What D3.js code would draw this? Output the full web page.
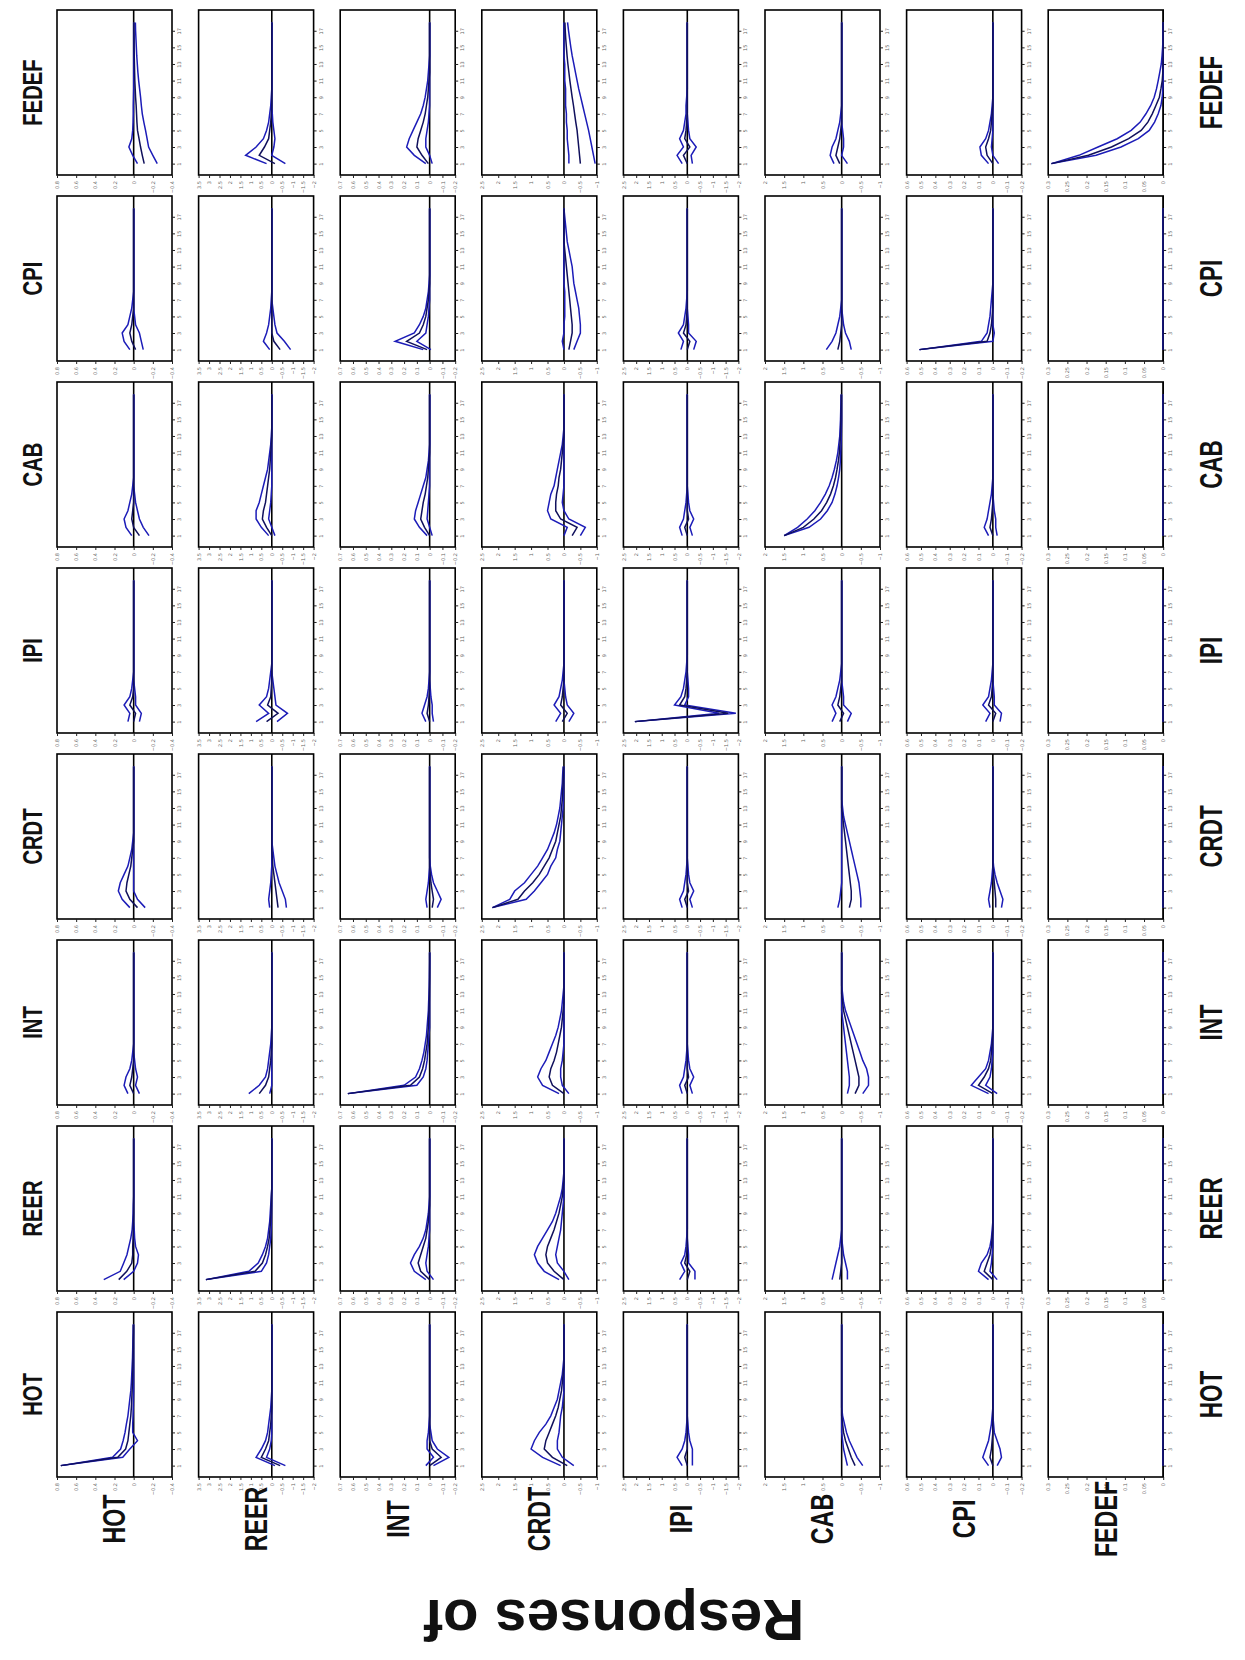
<!DOCTYPE html>
<html>
<head>
<meta charset="utf-8">
<script src="https://cdn.jsdelivr.net/npm/d3@7"></script>
<style>
  body { margin: 0; background: #fff; }
  svg { display: block; }
  .name { font-family: 'Liberation Sans', Arial, sans-serif; font-weight: bold; fill: #111; }
  .tick text { font-family: 'DejaVu Sans', sans-serif; font-size: 5px; fill: #666; }
</style>
</head>
<body>
<svg width="1245" height="1660"></svg>
<script>
// rows = shock, top to bottom; columns = responding variable, left to right
const shocks = ['FEDEF', 'CPI', 'CAB', 'IPI', 'CRDT', 'INT', 'REER', 'HOT'];
const responses = ['HOT', 'REER', 'INT', 'CRDT', 'IPI', 'CAB', 'CPI', 'FEDEF'];
const periods = [1, 2, 3, 4, 5, 6, 7, 8, 9, 10, 11, 12, 13, 14, 15, 16, 17, 18];
const timeTicks = [1, 3, 5, 7, 9, 11, 13, 15, 17];

// value axis of each response column, in tick units: [left edge, right edge]
const axisSpan = [[4, -2], [7, -4], [7, -2], [5, -2], [5, -4], [4, -2], [6, -2], [6, 0]];
const tickStep = [0.2, 0.5, 0.1, 0.5, 0.5, 0.5, 0.1, 0.05];

const flat = [0, 0, 0, 0, 0, 0, 0, 0, 0, 0, 0, 0, 0, 0, 0, 0, 0, 0];

// responses in tick units (positive = left of the zero line)
const hiBand = [
  [ // FEDEF shock
    [-0.2, 0.05, 0.25, 0.1, 0.05, 0.03, 0.02, 0.02, 0.01, 0, 0, 0, 0, 0, 0, 0, 0, 0],
    [0.5, 2.5, 1.5, 0.8, 0.5, 0.3, 0.2, 0.1, 0.05, 0, 0, 0, 0, 0, 0, 0, 0, 0],
    [0.3, 1.2, 1.8, 1.6, 1.3, 1.0, 0.7, 0.5, 0.35, 0.25, 0.15, 0.1, 0.05, 0, 0, 0, 0, 0],
    [-0.3, -0.3, -0.25, -0.2, -0.2, -0.15, -0.15, -0.1, -0.1, -0.1, -0.05, -0.05, -0.05, 0, 0, 0, 0, 0],
    [0.4, 0.8, 0.3, 0.6, 0.3, 0.2, 0.1, 0.1, 0.05, 0, 0, 0, 0, 0, 0, 0, 0, 0],
    [0.4, 0.6, 0.5, 0.3, 0.2, 0.1, 0.05, 0, 0, 0, 0, 0, 0, 0, 0, 0, 0, 0],
    [0.3, 0.8, 0.9, 0.5, 0.3, 0.2, 0.1, 0.05, 0, 0, 0, 0, 0, 0, 0, 0, 0, 0],
    [5.83, 4.4, 3.4, 2.4, 1.67, 1.2, 0.9, 0.65, 0.47, 0.35, 0.26, 0.18, 0.1, 0.06, 0.03, 0.01, 0, 0]
  ],
  [ // CPI shock
    [0.2, 0.5, 0.6, 0.3, 0.2, 0.1, 0.05, 0, 0, 0, 0, 0, 0, 0, 0, 0, 0, 0],
    [0.2, 0.8, 0.5, 0.3, 0.2, 0.1, 0.05, 0, 0, 0, 0, 0, 0, 0, 0, 0, 0, 0],
    [0.5, 2.7, 1.2, 0.8, 0.5, 0.3, 0.2, 0.1, 0.05, 0, 0, 0, 0, 0, 0, 0, 0, 0],
    [0, 0.1, 0, 0, -0.05, -0.05, -0.05, -0.05, 0, 0, 0, 0, 0, 0, 0, 0, 0, 0],
    [0.5, 0.3, 0.7, 0.3, 0.2, 0.1, 0.05, 0, 0, 0, 0, 0, 0, 0, 0, 0, 0, 0],
    [0.8, 0.5, 0.3, 0.2, 0.1, 0.05, 0, 0, 0, 0, 0, 0, 0, 0, 0, 0, 0, 0],
    [5.1, 0.8, 0.4, 0.3, 0.2, 0.15, 0.1, 0.05, 0, 0, 0, 0, 0, 0, 0, 0, 0, 0],
    flat
  ],
  [ // CAB shock
    [0.1, 0.4, 0.5, 0.3, 0.2, 0.1, 0.05, 0, 0, 0, 0, 0, 0, 0, 0, 0, 0, 0],
    [0.3, 1.0, 1.5, 1.5, 1.2, 1.0, 0.8, 0.6, 0.4, 0.3, 0.2, 0.1, 0.05, 0, 0, 0, 0, 0],
    [0.2, 0.8, 1.2, 1.1, 0.9, 0.7, 0.5, 0.3, 0.2, 0.1, 0.05, 0, 0, 0, 0, 0, 0, 0],
    [0, -0.2, 0.8, 1.0, 0.9, 0.8, 0.6, 0.5, 0.4, 0.3, 0.2, 0.1, 0.05, 0, 0, 0, 0, 0],
    [0.4, 0.6, 0.3, 0.2, 0.1, 0.05, 0, 0, 0, 0, 0, 0, 0, 0, 0, 0, 0, 0],
    [3.0, 2.3, 1.8, 1.4, 1.1, 0.85, 0.65, 0.5, 0.38, 0.28, 0.2, 0.15, 0.1, 0.08, 0.06, 0.05, 0.04, 0.03],
    [0.3, 0.6, 0.4, 0.3, 0.2, 0.1, 0.05, 0, 0, 0, 0, 0, 0, 0, 0, 0, 0, 0],
    flat
  ],
  [ // IPI shock
    [0.3, 0.2, 0.5, 0.2, 0.1, 0.05, 0, 0, 0, 0, 0, 0, 0, 0, 0, 0, 0, 0],
    [1.5, 0.3, 1.2, 0.5, 0.3, 0.2, 0.1, 0, 0, 0, 0, 0, 0, 0, 0, 0, 0, 0],
    [0.3, 0.6, 0.4, 0.2, 0.1, 0.05, 0, 0, 0, 0, 0, 0, 0, 0, 0, 0, 0, 0],
    [0.5, 0.2, 0.6, 0.3, 0.2, 0.1, 0.05, 0, 0, 0, 0, 0, 0, 0, 0, 0, 0, 0],
    [4.1, -2.5, 1.0, 0.5, 0.3, 0.2, 0.1, 0.05, 0, 0, 0, 0, 0, 0, 0, 0, 0, 0],
    [0.5, 0.3, 0.5, 0.3, 0.2, 0.1, 0.05, 0, 0, 0, 0, 0, 0, 0, 0, 0, 0, 0],
    [0.5, 0.2, 0.7, 0.3, 0.2, 0.1, 0.05, 0, 0, 0, 0, 0, 0, 0, 0, 0, 0, 0],
    flat
  ],
  [ // CRDT shock
    [0.2, 0.6, 0.8, 0.7, 0.5, 0.3, 0.2, 0.1, 0.05, 0, 0, 0, 0, 0, 0, 0, 0, 0],
    [0.2, 0.3, 0.2, 0.1, 0.05, 0, 0, 0, 0, 0, 0, 0, 0, 0, 0, 0, 0, 0],
    [0.2, 0.3, 0.2, 0.1, 0.05, 0, 0, 0, 0, 0, 0, 0, 0, 0, 0, 0, 0, 0],
    [4.35, 3.3, 3.0, 2.4, 2.0, 1.6, 1.3, 1.0, 0.8, 0.6, 0.45, 0.35, 0.25, 0.2, 0.15, 0.1, 0.08, 0.05],
    [0.4, 0.6, 0.3, 0.2, 0.1, 0.05, 0, 0, 0, 0, 0, 0, 0, 0, 0, 0, 0, 0],
    [0.2, 0.1, 0.05, 0, 0, 0, 0, 0, 0, 0, 0, 0, 0, 0, 0, 0, 0, 0],
    [0.2, 0.3, 0.2, 0.1, 0.05, 0, 0, 0, 0, 0, 0, 0, 0, 0, 0, 0, 0, 0],
    flat
  ],
  [ // INT shock
    [0.3, 0.5, 0.4, 0.2, 0.1, 0.05, 0, 0, 0, 0, 0, 0, 0, 0, 0, 0, 0, 0],
    [2.2, 1.2, 0.6, 0.4, 0.3, 0.2, 0.1, 0.05, 0, 0, 0, 0, 0, 0, 0, 0, 0, 0],
    [6.4, 2.0, 1.1, 0.8, 0.6, 0.45, 0.35, 0.25, 0.2, 0.15, 0.1, 0.08, 0.05, 0.03, 0.02, 0.01, 0, 0],
    [0.3, 1.3, 1.6, 1.4, 1.1, 0.9, 0.7, 0.5, 0.35, 0.25, 0.15, 0.1, 0.05, 0, 0, 0, 0, 0],
    [0.4, 0.6, 0.3, 0.2, 0.1, 0.05, 0, 0, 0, 0, 0, 0, 0, 0, 0, 0, 0, 0],
    [-0.3, -0.4, -0.4, -0.35, -0.3, -0.25, -0.2, -0.15, -0.1, -0.05, 0, 0, 0, 0, 0, 0, 0, 0],
    [0.3, 1.5, 1.0, 0.5, 0.3, 0.2, 0.1, 0.05, 0, 0, 0, 0, 0, 0, 0, 0, 0, 0],
    flat
  ],
  [ // REER shock
    [1.56, 0.7, 0.52, 0.35, 0.25, 0.15, 0.08, 0.05, 0.03, 0.02, 0, 0, 0, 0, 0, 0, 0, 0],
    [6.3, 2.2, 1.3, 0.9, 0.6, 0.4, 0.3, 0.2, 0.15, 0.1, 0.05, 0, 0, 0, 0, 0, 0, 0],
    [0.3, 1.2, 1.5, 1.2, 0.8, 0.5, 0.3, 0.2, 0.1, 0.05, 0, 0, 0, 0, 0, 0, 0, 0],
    [0.3, 1.2, 1.6, 1.8, 1.6, 1.3, 1.0, 0.7, 0.5, 0.35, 0.2, 0.1, 0.05, 0, 0, 0, 0, 0],
    [0.6, 0.2, 0.5, 0.2, 0.1, 0.05, 0, 0, 0, 0, 0, 0, 0, 0, 0, 0, 0, 0],
    [0.5, 0.4, 0.3, 0.2, 0.1, 0.05, 0, 0, 0, 0, 0, 0, 0, 0, 0, 0, 0, 0],
    [0.3, 1.0, 0.8, 0.4, 0.2, 0.1, 0.05, 0, 0, 0, 0, 0, 0, 0, 0, 0, 0, 0],
    flat
  ],
  [ // HOT shock
    [3.8, 1.1, 0.68, 0.55, 0.45, 0.38, 0.3, 0.25, 0.2, 0.15, 0.12, 0.1, 0.08, 0.06, 0.05, 0.04, 0.03, 0.02],
    [-0.3, 1.5, 1.0, 0.6, 0.4, 0.3, 0.2, 0.1, 0.05, 0, 0, 0, 0, 0, 0, 0, 0, 0],
    [0.3, -0.3, 0.2, 0.2, 0.1, 0.05, 0, 0, 0, 0, 0, 0, 0, 0, 0, 0, 0, 0],
    [0.2, 1.3, 2.0, 1.8, 1.5, 1.1, 0.8, 0.6, 0.4, 0.3, 0.2, 0.1, 0.05, 0, 0, 0, 0, 0],
    [0.4, 0.8, 0.4, 0.2, 0.1, 0.05, 0, 0, 0, 0, 0, 0, 0, 0, 0, 0, 0, 0],
    [-0.3, -0.2, -0.1, -0.05, 0, 0, 0, 0, 0, 0, 0, 0, 0, 0, 0, 0, 0, 0],
    [0.3, 0.7, 0.5, 0.3, 0.2, 0.1, 0.05, 0, 0, 0, 0, 0, 0, 0, 0, 0, 0, 0],
    flat
  ]
];

const midLine = [
  [
    [-0.55, -0.45, -0.36, -0.28, -0.2, -0.17, -0.15, -0.13, -0.1, -0.08, -0.06, -0.05, -0.04, -0.03, -0.02, -0.02, -0.01, -0.01],
    [-0.3, 1.2, 0.7, 0.3, 0.2, 0.1, 0.05, 0, 0, 0, 0, 0, 0, 0, 0, 0, 0, 0],
    [0.1, 0.6, 1.0, 0.9, 0.7, 0.5, 0.35, 0.25, 0.15, 0.1, 0.05, 0, 0, 0, 0, 0, 0, 0],
    [-1.0, -0.95, -0.9, -0.85, -0.8, -0.72, -0.65, -0.58, -0.5, -0.43, -0.36, -0.3, -0.24, -0.19, -0.15, -0.11, -0.08, -0.06],
    [0, 0.3, -0.2, 0.2, 0.1, 0.05, 0, 0, 0, 0, 0, 0, 0, 0, 0, 0, 0, 0],
    [0.1, 0.3, 0.2, 0.1, 0.05, 0, 0, 0, 0, 0, 0, 0, 0, 0, 0, 0, 0, 0],
    [0, 0.4, 0.5, 0.3, 0.15, 0.1, 0.05, 0, 0, 0, 0, 0, 0, 0, 0, 0, 0, 0],
    [5.83, 3.9, 2.7, 1.8, 1.15, 0.8, 0.57, 0.38, 0.2, 0.12, 0.05, 0.02, 0, 0, 0, 0, 0, 0]
  ],
  [
    [-0.1, 0.1, 0.2, 0.1, 0.05, 0, 0, 0, 0, 0, 0, 0, 0, 0, 0, 0, 0, 0],
    [-0.8, -0.2, 0, 0, 0, 0, 0, 0, 0, 0, 0, 0, 0, 0, 0, 0, 0, 0],
    [0.2, 1.8, 0.8, 0.5, 0.3, 0.2, 0.1, 0.05, 0, 0, 0, 0, 0, 0, 0, 0, 0, 0],
    [-0.3, -0.4, -0.5, -0.5, -0.45, -0.4, -0.35, -0.3, -0.25, -0.2, -0.15, -0.1, -0.05, 0, 0, 0, 0, 0],
    [0, -0.2, 0.3, 0.1, 0.05, 0, 0, 0, 0, 0, 0, 0, 0, 0, 0, 0, 0, 0],
    [0.2, 0.1, 0.05, 0, 0, 0, 0, 0, 0, 0, 0, 0, 0, 0, 0, 0, 0, 0],
    [5.1, 0.4, 0.2, 0.1, 0.05, 0, 0, 0, 0, 0, 0, 0, 0, 0, 0, 0, 0, 0],
    flat
  ],
  [
    [-0.3, 0, 0.1, 0.05, 0, 0, 0, 0, 0, 0, 0, 0, 0, 0, 0, 0, 0, 0],
    [0, 0.5, 0.9, 0.8, 0.6, 0.5, 0.4, 0.3, 0.2, 0.15, 0.1, 0.05, 0, 0, 0, 0, 0, 0],
    [0, 0.4, 0.7, 0.6, 0.5, 0.35, 0.25, 0.15, 0.1, 0.05, 0, 0, 0, 0, 0, 0, 0, 0],
    [-0.5, -0.8, 0.2, 0.5, 0.5, 0.45, 0.35, 0.3, 0.2, 0.15, 0.1, 0.05, 0, 0, 0, 0, 0, 0],
    [0, 0.2, -0.1, 0, 0, 0, 0, 0, 0, 0, 0, 0, 0, 0, 0, 0, 0, 0],
    [3.0, 2.0, 1.45, 1.05, 0.78, 0.58, 0.43, 0.32, 0.24, 0.17, 0.12, 0.09, 0.06, 0.05, 0.04, 0.03, 0.02, 0.02],
    [0, 0.2, 0.1, 0.05, 0, 0, 0, 0, 0, 0, 0, 0, 0, 0, 0, 0, 0, 0],
    flat
  ],
  [
    [0, -0.1, 0.2, 0.05, 0, 0, 0, 0, 0, 0, 0, 0, 0, 0, 0, 0, 0, 0],
    [0.5, -0.6, 0.4, 0.1, 0.05, 0, 0, 0, 0, 0, 0, 0, 0, 0, 0, 0, 0, 0],
    [0, 0.2, 0.1, 0.05, 0, 0, 0, 0, 0, 0, 0, 0, 0, 0, 0, 0, 0, 0],
    [0.1, -0.2, 0.2, 0.1, 0.05, 0, 0, 0, 0, 0, 0, 0, 0, 0, 0, 0, 0, 0],
    [4.1, -3.2, 0.6, 0.2, 0.1, 0.05, 0, 0, 0, 0, 0, 0, 0, 0, 0, 0, 0, 0],
    [0.1, -0.1, 0.2, 0.1, 0.05, 0, 0, 0, 0, 0, 0, 0, 0, 0, 0, 0, 0, 0],
    [0, -0.2, 0.3, 0.1, 0.05, 0, 0, 0, 0, 0, 0, 0, 0, 0, 0, 0, 0, 0],
    flat
  ],
  [
    [-0.2, 0.2, 0.4, 0.35, 0.25, 0.15, 0.1, 0.05, 0, 0, 0, 0, 0, 0, 0, 0, 0, 0],
    [-0.6, -0.5, -0.4, -0.3, -0.2, -0.1, -0.05, 0, 0, 0, 0, 0, 0, 0, 0, 0, 0, 0],
    [-0.2, -0.3, -0.2, -0.1, -0.05, 0, 0, 0, 0, 0, 0, 0, 0, 0, 0, 0, 0, 0],
    [4.35, 2.8, 2.4, 1.9, 1.5, 1.2, 0.9, 0.7, 0.5, 0.4, 0.3, 0.2, 0.15, 0.1, 0.08, 0.05, 0.03, 0.02],
    [0, 0.2, -0.1, 0, 0, 0, 0, 0, 0, 0, 0, 0, 0, 0, 0, 0, 0, 0],
    [-0.4, -0.5, -0.5, -0.45, -0.4, -0.35, -0.3, -0.25, -0.2, -0.15, -0.1, -0.05, 0, 0, 0, 0, 0, 0],
    [-0.2, -0.2, -0.15, -0.1, -0.05, 0, 0, 0, 0, 0, 0, 0, 0, 0, 0, 0, 0, 0],
    flat
  ],
  [
    [0, 0.2, 0.1, 0.05, 0, 0, 0, 0, 0, 0, 0, 0, 0, 0, 0, 0, 0, 0],
    [1.2, 0.6, 0.3, 0.2, 0.1, 0.05, 0, 0, 0, 0, 0, 0, 0, 0, 0, 0, 0, 0],
    [6.4, 1.5, 0.8, 0.55, 0.4, 0.3, 0.2, 0.15, 0.1, 0.08, 0.05, 0.03, 0.02, 0.01, 0, 0, 0, 0],
    [0, 0.7, 0.9, 0.8, 0.6, 0.45, 0.35, 0.25, 0.15, 0.1, 0.05, 0, 0, 0, 0, 0, 0, 0],
    [0, 0.2, -0.1, 0, 0, 0, 0, 0, 0, 0, 0, 0, 0, 0, 0, 0, 0, 0],
    [-0.7, -0.9, -0.9, -0.8, -0.7, -0.6, -0.5, -0.4, -0.3, -0.2, -0.1, -0.05, 0, 0, 0, 0, 0, 0],
    [0, 1.0, 0.6, 0.3, 0.15, 0.1, 0.05, 0, 0, 0, 0, 0, 0, 0, 0, 0, 0, 0],
    flat
  ],
  [
    [0.78, 0.36, 0.1, 0.05, 0.05, 0.03, 0.02, 0.01, 0, 0, 0, 0, 0, 0, 0, 0, 0, 0],
    [6.3, 1.6, 0.9, 0.6, 0.4, 0.25, 0.18, 0.12, 0.08, 0.05, 0.03, 0, 0, 0, 0, 0, 0, 0],
    [0, 0.7, 0.9, 0.7, 0.5, 0.3, 0.2, 0.1, 0.05, 0, 0, 0, 0, 0, 0, 0, 0, 0],
    [0, 0.6, 1.0, 1.1, 1.0, 0.8, 0.6, 0.45, 0.3, 0.2, 0.1, 0.05, 0, 0, 0, 0, 0, 0],
    [0, -0.2, 0.2, 0.05, 0, 0, 0, 0, 0, 0, 0, 0, 0, 0, 0, 0, 0, 0],
    [0.1, 0.05, 0, 0, 0, 0, 0, 0, 0, 0, 0, 0, 0, 0, 0, 0, 0, 0],
    [0, 0.6, 0.4, 0.2, 0.1, 0.05, 0, 0, 0, 0, 0, 0, 0, 0, 0, 0, 0, 0],
    flat
  ],
  [
    [3.8, 0.83, 0.42, 0.3, 0.25, 0.2, 0.15, 0.12, 0.1, 0.08, 0.06, 0.05, 0.04, 0.03, 0.02, 0.02, 0.01, 0.01],
    [-0.8, 1.0, 0.6, 0.3, 0.2, 0.1, 0.05, 0, 0, 0, 0, 0, 0, 0, 0, 0, 0, 0],
    [0, -0.9, -0.2, 0, 0, 0, 0, 0, 0, 0, 0, 0, 0, 0, 0, 0, 0, 0],
    [-0.2, 0.7, 1.2, 1.1, 0.9, 0.7, 0.5, 0.35, 0.25, 0.15, 0.1, 0.05, 0, 0, 0, 0, 0, 0],
    [0, 0.2, 0, 0, 0, 0, 0, 0, 0, 0, 0, 0, 0, 0, 0, 0, 0, 0],
    [-0.7, -0.5, -0.35, -0.2, -0.1, -0.05, 0, 0, 0, 0, 0, 0, 0, 0, 0, 0, 0, 0],
    [0, 0.2, 0.1, 0.05, 0, 0, 0, 0, 0, 0, 0, 0, 0, 0, 0, 0, 0, 0],
    flat
  ]
];

const loBand = [
  [
    [-1.23, -1.0, -0.78, -0.7, -0.62, -0.53, -0.45, -0.4, -0.36, -0.31, -0.26, -0.22, -0.19, -0.16, -0.14, -0.12, -0.1, -0.09],
    [-1.3, 0, -0.2, -0.3, -0.2, -0.1, -0.05, 0, 0, 0, 0, 0, 0, 0, 0, 0, 0, 0],
    [-0.2, 0, 0.3, 0.3, 0.2, 0.1, 0.05, 0, 0, 0, 0, 0, 0, 0, 0, 0, 0, 0],
    [-1.9, -1.8, -1.7, -1.6, -1.5, -1.38, -1.26, -1.14, -1.02, -0.9, -0.8, -0.7, -0.6, -0.5, -0.42, -0.35, -0.28, -0.22],
    [-0.4, -0.3, -0.7, -0.2, -0.1, -0.05, 0, 0, 0, 0, 0, 0, 0, 0, 0, 0, 0, 0],
    [-0.3, 0, -0.1, -0.1, -0.05, 0, 0, 0, 0, 0, 0, 0, 0, 0, 0, 0, 0, 0],
    [-0.4, 0, 0.1, 0.05, 0, 0, 0, 0, 0, 0, 0, 0, 0, 0, 0, 0, 0, 0],
    [5.83, 3.5, 2.2, 1.3, 0.73, 0.45, 0.26, 0.12, 0.05, 0.02, 0, 0, 0, 0, 0, 0, 0, 0]
  ],
  [
    [-0.5, -0.4, -0.3, -0.1, -0.05, 0, 0, 0, 0, 0, 0, 0, 0, 0, 0, 0, 0, 0],
    [-1.8, -1.2, -0.5, -0.3, -0.2, -0.1, 0, 0, 0, 0, 0, 0, 0, 0, 0, 0, 0, 0],
    [-0.1, 1.0, 0.3, 0.2, 0.1, 0.05, 0, 0, 0, 0, 0, 0, 0, 0, 0, 0, 0, 0],
    [-0.6, -0.8, -1.0, -1.0, -0.95, -0.9, -0.8, -0.7, -0.6, -0.55, -0.5, -0.4, -0.3, -0.2, -0.15, -0.1, -0.05, 0],
    [-0.5, -0.7, -0.1, -0.1, -0.05, 0, 0, 0, 0, 0, 0, 0, 0, 0, 0, 0, 0, 0],
    [-0.5, -0.4, -0.2, -0.1, -0.05, 0, 0, 0, 0, 0, 0, 0, 0, 0, 0, 0, 0, 0],
    [5.1, 0, -0.1, 0, 0, 0, 0, 0, 0, 0, 0, 0, 0, 0, 0, 0, 0, 0],
    flat
  ],
  [
    [-0.8, -0.5, -0.3, -0.2, -0.1, -0.05, 0, 0, 0, 0, 0, 0, 0, 0, 0, 0, 0, 0],
    [-0.3, 0, 0.3, 0.2, 0.1, 0.05, 0, 0, 0, 0, 0, 0, 0, 0, 0, 0, 0, 0],
    [-0.2, 0, 0.2, 0.15, 0.1, 0.05, 0, 0, 0, 0, 0, 0, 0, 0, 0, 0, 0, 0],
    [-1.0, -1.3, -0.3, 0, 0.1, 0.05, 0, 0, 0, 0, 0, 0, 0, 0, 0, 0, 0, 0],
    [-0.4, -0.2, -0.5, -0.2, -0.1, -0.05, 0, 0, 0, 0, 0, 0, 0, 0, 0, 0, 0, 0],
    [3.0, 1.7, 1.1, 0.75, 0.5, 0.35, 0.24, 0.16, 0.1, 0.07, 0.05, 0.03, 0.02, 0.01, 0, 0, 0, 0],
    [-0.3, -0.2, -0.2, -0.1, -0.05, 0, 0, 0, 0, 0, 0, 0, 0, 0, 0, 0, 0, 0],
    flat
  ],
  [
    [-0.3, -0.4, -0.1, -0.1, -0.05, 0, 0, 0, 0, 0, 0, 0, 0, 0, 0, 0, 0, 0],
    [-0.5, -1.5, -0.4, -0.3, -0.2, -0.1, 0, 0, 0, 0, 0, 0, 0, 0, 0, 0, 0, 0],
    [-0.3, -0.2, -0.2, -0.1, -0.05, 0, 0, 0, 0, 0, 0, 0, 0, 0, 0, 0, 0, 0],
    [-0.3, -0.6, -0.2, -0.1, -0.05, 0, 0, 0, 0, 0, 0, 0, 0, 0, 0, 0, 0, 0],
    [4.1, -3.8, 0.2, -0.1, -0.1, -0.05, 0, 0, 0, 0, 0, 0, 0, 0, 0, 0, 0, 0],
    [-0.3, -0.5, -0.1, -0.1, -0.05, 0, 0, 0, 0, 0, 0, 0, 0, 0, 0, 0, 0, 0],
    [-0.5, -0.6, -0.1, -0.1, -0.05, 0, 0, 0, 0, 0, 0, 0, 0, 0, 0, 0, 0, 0],
    flat
  ],
  [
    [-0.6, -0.2, 0, 0, 0, 0, 0, 0, 0, 0, 0, 0, 0, 0, 0, 0, 0, 0],
    [-1.4, -1.3, -1.0, -0.7, -0.5, -0.3, -0.2, -0.1, 0, 0, 0, 0, 0, 0, 0, 0, 0, 0],
    [-0.6, -0.9, -0.6, -0.3, -0.15, -0.05, 0, 0, 0, 0, 0, 0, 0, 0, 0, 0, 0, 0],
    [4.35, 2.3, 1.8, 1.4, 1.0, 0.8, 0.5, 0.4, 0.25, 0.2, 0.15, 0.1, 0.05, 0.03, 0.02, 0.01, 0, 0],
    [-0.4, -0.2, -0.5, -0.2, -0.1, -0.05, 0, 0, 0, 0, 0, 0, 0, 0, 0, 0, 0, 0],
    [-1.0, -1.0, -0.95, -0.9, -0.8, -0.7, -0.6, -0.5, -0.4, -0.3, -0.2, -0.1, -0.05, 0, 0, 0, 0, 0],
    [-0.6, -0.7, -0.5, -0.3, -0.15, -0.05, 0, 0, 0, 0, 0, 0, 0, 0, 0, 0, 0, 0],
    flat
  ],
  [
    [-0.3, -0.1, -0.2, -0.1, -0.05, 0, 0, 0, 0, 0, 0, 0, 0, 0, 0, 0, 0, 0],
    [0.2, 0, 0, 0, 0, 0, 0, 0, 0, 0, 0, 0, 0, 0, 0, 0, 0, 0],
    [6.4, 1.0, 0.5, 0.3, 0.2, 0.15, 0.1, 0.05, 0, 0, 0, 0, 0, 0, 0, 0, 0, 0],
    [-0.3, 0.1, 0.2, 0.2, 0.1, 0.05, 0, 0, 0, 0, 0, 0, 0, 0, 0, 0, 0, 0],
    [-0.4, -0.2, -0.5, -0.2, -0.1, -0.05, 0, 0, 0, 0, 0, 0, 0, 0, 0, 0, 0, 0],
    [-1.1, -1.4, -1.4, -1.3, -1.1, -0.95, -0.8, -0.65, -0.5, -0.35, -0.2, -0.1, -0.05, 0, 0, 0, 0, 0],
    [-0.3, 0.5, 0.2, 0.1, 0.05, 0, 0, 0, 0, 0, 0, 0, 0, 0, 0, 0, 0, 0],
    flat
  ],
  [
    [0.52, 0, -0.2, -0.25, -0.1, -0.05, -0.03, 0, 0, 0, 0, 0, 0, 0, 0, 0, 0, 0],
    [6.3, 1.0, 0.5, 0.3, 0.2, 0.1, 0.06, 0.04, 0.02, 0, 0, 0, 0, 0, 0, 0, 0, 0],
    [-0.3, 0.2, 0.3, 0.2, 0.1, 0.05, 0, 0, 0, 0, 0, 0, 0, 0, 0, 0, 0, 0],
    [-0.3, 0, 0.4, 0.5, 0.4, 0.3, 0.2, 0.15, 0.1, 0.05, 0, 0, 0, 0, 0, 0, 0, 0],
    [-0.6, -0.6, -0.1, -0.1, -0.05, 0, 0, 0, 0, 0, 0, 0, 0, 0, 0, 0, 0, 0],
    [-0.3, -0.3, -0.2, -0.1, -0.05, 0, 0, 0, 0, 0, 0, 0, 0, 0, 0, 0, 0, 0],
    [-0.3, 0.2, 0.1, 0.05, 0, 0, 0, 0, 0, 0, 0, 0, 0, 0, 0, 0, 0, 0],
    flat
  ],
  [
    [3.8, 0.57, 0.2, -0.2, 0.05, 0.05, 0.03, 0.02, 0.01, 0, 0, 0, 0, 0, 0, 0, 0, 0],
    [-1.3, 0.5, 0.2, 0.05, 0, 0, 0, 0, 0, 0, 0, 0, 0, 0, 0, 0, 0, 0],
    [-0.3, -1.5, -0.6, -0.2, -0.1, 0, 0, 0, 0, 0, 0, 0, 0, 0, 0, 0, 0, 0],
    [-0.6, 0.1, 0.4, 0.4, 0.3, 0.25, 0.2, 0.1, 0.05, 0, 0, 0, 0, 0, 0, 0, 0, 0],
    [-0.4, -0.4, -0.4, -0.2, -0.1, -0.05, 0, 0, 0, 0, 0, 0, 0, 0, 0, 0, 0, 0],
    [-1.1, -0.8, -0.6, -0.4, -0.25, -0.15, -0.05, 0, 0, 0, 0, 0, 0, 0, 0, 0, 0, 0],
    [-0.3, -0.6, -0.5, -0.3, -0.1, -0.05, 0, 0, 0, 0, 0, 0, 0, 0, 0, 0, 0, 0],
    flat
  ]
];

const svg = d3.select('svg');

const panelW = 115;
const panelH = 165;
const left0 = 57;
const top0 = 10;
const colGap = 141.6;
const rowGap = 186;

const tScale = d3.scaleLinear()
  .domain([-0.37, 19.5])
  .range([panelH, 0]);

shocks.forEach((shock, r) => {
  responses.forEach((resp, c) => {
    const g = svg.append('g')
      .attr('transform', `translate(${left0 + c * colGap}, ${top0 + r * rowGap})`);

    const [hi, lo] = axisSpan[c];
    const x = d3.scaleLinear().domain([hi, lo]).range([0, panelW]);

    // frame
    g.append('rect')
      .attr('width', panelW)
      .attr('height', panelH)
      .attr('fill', 'none')
      .attr('stroke', '#000')
      .attr('stroke-width', 1.6);

    // value axis along the bottom edge
    const bottom = g.append('g')
      .attr('transform', `translate(0, ${panelH})`)
      .call(d3.axisBottom(x)
        .tickValues(d3.range(lo, hi + 1))
        .tickSize(3)
        .tickSizeOuter(0)
        .tickFormat(v => d3.format('.2~f')(v * tickStep[c])));
    bottom.select('.domain').remove();
    bottom.selectAll('.tick line').attr('stroke', '#222');
    bottom.selectAll('text')
      .attr('text-anchor', 'end')
      .attr('x', -6)
      .attr('y', 0)
      .attr('dy', '0.32em')
      .attr('transform', 'rotate(-90)');

    // time axis along the right edge
    const right = g.append('g')
      .attr('transform', `translate(${panelW}, 0)`)
      .call(d3.axisRight(tScale)
        .tickValues(timeTicks)
        .tickSize(3)
        .tickSizeOuter(0));
    right.select('.domain').remove();
    right.selectAll('.tick line').attr('stroke', '#222');
    right.selectAll('text')
      .attr('text-anchor', 'middle')
      .attr('x', 0)
      .attr('y', 9)
      .attr('dy', 0)
      .attr('transform', 'rotate(-90)');

    // zero line
    g.append('line')
      .attr('x1', x(0)).attr('x2', x(0))
      .attr('y1', 0).attr('y2', panelH)
      .attr('stroke', '#000')
      .attr('stroke-width', 1.6);

    const line = d3.line()
      .x(v => x(v))
      .y((v, i) => tScale(periods[i]));

    const series = [loBand[r][c], hiBand[r][c], midLine[r][c]];
    g.selectAll('path.irf')
      .data(series)
      .enter()
      .append('path')
      .attr('class', 'irf')
      .attr('d', line)
      .attr('fill', 'none')
      .attr('stroke', (d, i) => i === 2 ? '#10105c' : '#1c1cb8')
      .attr('stroke-width', 1.5);
  });
});

// shock names, left and right
shocks.forEach((s, r) => {
  const cy = top0 + r * rowGap + panelH / 2;
  svg.append('text')
    .attr('class', 'name')
    .attr('transform', `translate(33, ${cy}) rotate(-90) scale(0.75, 1)`)
    .attr('text-anchor', 'middle')
    .attr('dy', '0.35em')
    .attr('font-size', 27)
    .text(s);
  svg.append('text')
    .attr('class', 'name')
    .attr('transform', `translate(1211, ${cy}) rotate(-90) scale(0.7, 1)`)
    .attr('text-anchor', 'middle')
    .attr('dy', '0.35em')
    .attr('font-size', 32)
    .text(s);
});

// response names under the grid
responses.forEach((v, c) => {
  svg.append('text')
    .attr('class', 'name')
    .attr('transform', `translate(${left0 + c * colGap + panelW / 2}, 1519) rotate(-90) scale(0.75, 1)`)
    .attr('text-anchor', 'middle')
    .attr('dy', '0.35em')
    .attr('font-size', 31)
    .text(v);
});

svg.append('text')
  .attr('class', 'name')
  .attr('transform', 'translate(614, 1620) rotate(180)')
  .attr('text-anchor', 'middle')
  .attr('dy', '0.35em')
  .attr('font-size', 58)
  .text('Responses of');
</script>
</body>
</html>
